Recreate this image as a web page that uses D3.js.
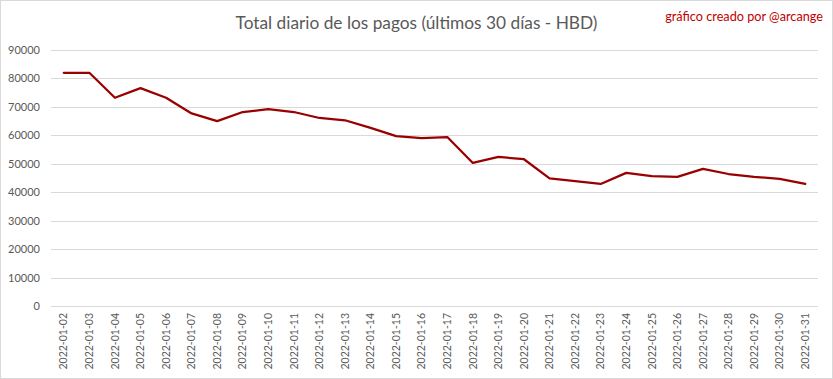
<!DOCTYPE html>
<html><head><meta charset="utf-8">
<script src="https://cdn.jsdelivr.net/npm/d3@7"></script>
<style>body{margin:0;background:#fff}svg{display:block}</style>
</head><body>
<script>
const dates = ["2022-01-02","2022-01-03","2022-01-04","2022-01-05","2022-01-06","2022-01-07","2022-01-08","2022-01-09","2022-01-10","2022-01-11","2022-01-12","2022-01-13","2022-01-14","2022-01-15","2022-01-16","2022-01-17","2022-01-18","2022-01-19","2022-01-20","2022-01-21","2022-01-22","2022-01-23","2022-01-24","2022-01-25","2022-01-26","2022-01-27","2022-01-28","2022-01-29","2022-01-30","2022-01-31"];
const totals = [82000,82000,73200,76600,73200,67700,65000,68200,69200,68200,66100,65300,62600,59700,59000,59400,50300,52400,51600,44900,43900,42900,46800,45700,45400,48200,46400,45400,44700,42900];
const yTicks = [0,10000,20000,30000,40000,50000,60000,70000,80000,90000];
const title = "Total diario de los pagos (últimos 30 días - HBD)";
const credit = "gráfico creado por @arcange";

const W = 833, H = 379;
const m = {left:51, right:15, top:50, bottom:73};
const svg = d3.select("body").append("svg").attr("width",W).attr("height",H);
svg.append("rect").attr("x",0.5).attr("y",0.5).attr("width",W-1).attr("height",H-1)
  .attr("fill","#fff").attr("stroke","#d9d9d9");

const x = d3.scaleBand().domain(dates).range([m.left, W-m.right]);
const y = d3.scaleLinear().domain([0,90000]).range([H-m.bottom, m.top]);

const font = "Lato, 'Open Sans', sans-serif";
svg.append("g").selectAll("line").data(yTicks).join("line")
  .attr("x1",m.left).attr("x2",W-m.right)
  .attr("y1",d=>Math.round(y(d))+0.5).attr("y2",d=>Math.round(y(d))+0.5)
  .attr("stroke","#d9d9d9").attr("stroke-width",1);

const ya = svg.append("g").attr("transform",`translate(${m.left},0)`)
  .call(d3.axisLeft(y).tickValues(yTicks).tickSize(0).tickPadding(11).tickFormat(d3.format("d")));
ya.select(".domain").remove();
ya.selectAll("text").attr("fill","#595959").attr("font-size",11).attr("font-family",font);

const xa = svg.append("g").attr("transform",`translate(0,${H-m.bottom})`)
  .call(d3.axisBottom(x).tickSize(0));
xa.select(".domain").remove();
xa.selectAll("text").attr("fill","#595959").attr("font-size",10.5).attr("font-family",font)
  .attr("transform","rotate(-90)").attr("text-anchor","end").attr("dy","0.35em").attr("x",-7).attr("y",0);

const line = d3.line().x((d,i)=>x(dates[i])+x.bandwidth()/2).y(d=>y(d));
svg.append("path").datum(totals).attr("d",line).attr("fill","none")
  .attr("stroke","#990000").attr("stroke-width",2.25).attr("stroke-linejoin","round").attr("stroke-linecap","round");

svg.append("text").attr("x",416.5).attr("y",29).attr("text-anchor","middle")
  .attr("font-family",font).attr("font-size",17.3).attr("fill","#595959").text(title);
svg.append("text").attr("x",823).attr("y",21).attr("text-anchor","end")
  .attr("font-family",font).attr("font-size",12.7).attr("fill","#c00000").text(credit);
</script>
</body></html>
